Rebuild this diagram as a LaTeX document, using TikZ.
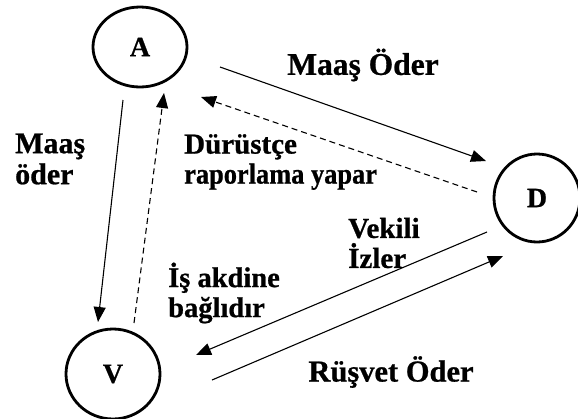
\documentclass[tikz,border=0pt]{standalone}
\usepackage{fontspec}
\setmainfont{Liberation Serif}[BoldFeatures={FakeBold=0.8}]
\usetikzlibrary{arrows.meta,shapes.geometric}
\begin{document}
\begin{tikzpicture}[x=1pt,y=-1pt,
  party/.style={draw,ellipse,line width=2.8pt,inner sep=0pt,font=\fontsize{28}{30}\selectfont\bfseries},
  lbl/.style={inner sep=0pt,align=left,font=\fontsize{29}{30}\selectfont\bfseries},
  link/.style={line width=1.1pt,-{Triangle[length=15pt,width=12pt]}},
  dlink/.style={link,dash pattern=on 6pt off 4pt}]
\useasboundingbox (0,0) rectangle (578,418);
\node[party,minimum width=94pt,minimum height=80pt] (A) at (140,47) {A};
\node[party,minimum width=86pt,minimum height=88pt] (D) at (537,198) {D};
\node[party,minimum width=94pt,minimum height=90pt] (V) at (113,374) {V};
% endpoints
\coordinate (av1) at (123,100);
\coordinate (av2) at (98,322);
\coordinate (va1) at (134,323);
\coordinate (va2) at (164,93);
\coordinate (ad1) at (220,67);
\coordinate (ad2) at (486,161);
\coordinate (da1) at (477,192);
\coordinate (da2) at (201,97);
\coordinate (dv1) at (487,232);
\coordinate (dv2) at (196,355);
\coordinate (vd1) at (212,380);
\coordinate (vd2) at (503,256);
\draw[link] (av1) -- (av2);
\draw[dlink] (va1) -- (va2);
\draw[link] (ad1) -- (ad2);
\draw[dlink] (da1) -- (da2);
\draw[link] (dv1) -- (dv2);
\draw[link] (vd1) -- (vd2);
% labels
\node[lbl,font=\fontsize{31.5}{30}\selectfont\bfseries] (l1) at (363,65) {Maaş Öder};
\node[lbl,anchor=west] (l2) at (184,162) {Dürüstçe\\\scalebox{0.91}[1]{\bfseries raporlama yapar}};
\node[lbl,anchor=west,font=\fontsize{30}{31}\selectfont\bfseries] (l3) at (15,159) {Maaş\\öder};
\node[lbl,anchor=west] (l4) at (348,243) {Vekili\\İzler};
\node[lbl,anchor=west,font=\fontsize{28.5}{30}\selectfont\bfseries] (l5) at (168,293) {İş akdine\\bağlıdır};
\node[lbl,font=\fontsize{30.5}{30}\selectfont\bfseries] (l6) at (391,372) {Rüşvet Öder};
\end{tikzpicture}
\end{document}
